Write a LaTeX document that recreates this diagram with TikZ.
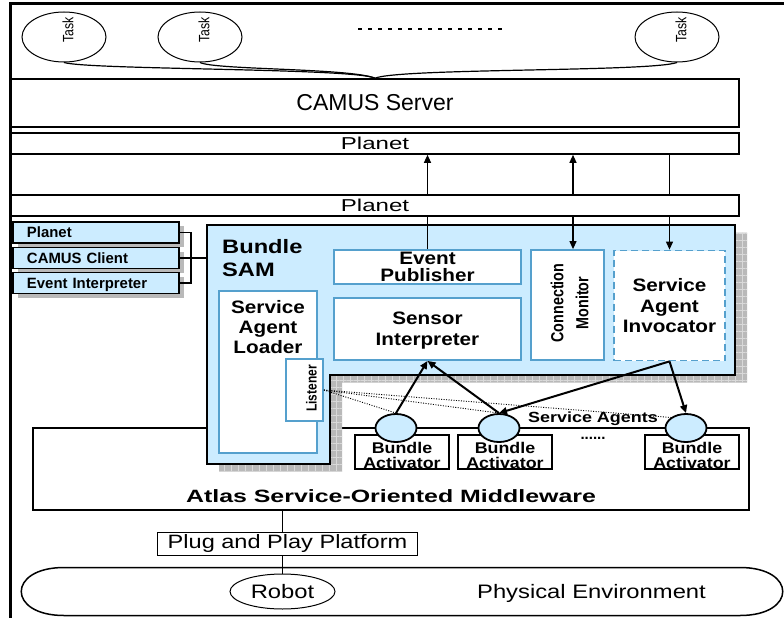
\documentclass[tikz,border=0pt]{standalone}
\usepackage{fontspec}
\setmainfont{Liberation Sans}
\newfontfamily\widesf[FakeStretch=1.4]{Liberation Sans}
\newfontfamily\midsf[FakeStretch=1.22]{Liberation Sans}
\newfontfamily\labsf[FakeStretch=1.15]{Liberation Sans}
\newfontfamily\narrowsf[FakeStretch=0.82]{Liberation Sans}
\usetikzlibrary{arrows.meta,shapes.geometric,shadows,patterns.meta,positioning}
\definecolor{sambg}{RGB}{204,236,255}
\definecolor{samedge}{RGB}{85,160,205}
\tikzset{
    box/.style={draw, line width=1.6pt, fill=white, inner sep=0pt},
    inbox/.style={draw=samedge, line width=1.8pt, fill=white, inner sep=0pt},
    samtext/.style={font=\labsf\bfseries\fontsize{18}{20.3}\selectfont, align=center, inner sep=0pt, text depth=0pt},
    tabbox/.style={draw, line width=1.5pt, fill=sambg, inner sep=0pt, inner xsep=14pt, text width=138pt, minimum height=21pt, align=left, text depth=0pt, font=\bfseries\fontsize{14.9}{16}\selectfont, drop shadow={shadow xshift=5pt, shadow yshift=-4pt, fill=gray!55, opacity=1}},
    task/.style={ellipse, draw, line width=1pt, minimum width=84pt, minimum height=50pt, inner sep=0pt},
    agent/.style={ellipse, draw, line width=1.8pt, fill=sambg, minimum width=41pt, minimum height=28pt, inner sep=0pt},
    bact/.style={draw, line width=1.5pt, fill=white, minimum width=94pt, minimum height=34pt, inner sep=0pt},
}
\begin{document}
\begin{tikzpicture}[x=1pt, y=-1pt, >={Triangle[length=8pt,width=7pt]}]
    \useasboundingbox (0,0) rectangle (784,618);
    \draw[line width=3pt] (10.5,618)--(10.5,4)--(784,4);

\foreach \i/\x in {1/64,2/200,3/677}
{
    \node[task] (t\i) at (\x,37) {};
    \node[rotate=90, inner sep=0pt, font=\narrowsf\fontsize{15}{15}\selectfont] (t\i-l) at (\x+4,30) {Task};
}
    \draw[line width=1.5pt, dash pattern=on 4pt off 6pt] (358,29)--(503,29);

    \node[box, minimum width=728pt, minimum height=48pt, font=\fontsize{23}{27}\selectfont] (srv) at (375,103) {CAMUS Server};
    \draw[line width=1.2pt] (t1.south) .. controls (90,70) and (355,68) .. (srv.north);
    \draw[line width=1.2pt] (t2.south) .. controls (215,70) and (350,68) .. (srv.north);
    \draw[line width=1.2pt] (t3.south) .. controls (650,72) and (400,68) .. (srv.north);

    \node[box, minimum width=728pt, minimum height=21pt, font=\widesf\fontsize{17.2}{18}\selectfont] (pl1) at (375,143.5) {Planet};
    \node[box, minimum width=728pt, minimum height=21pt, font=\widesf\fontsize{17.2}{18}\selectfont] (pl2) at (375,205.5) {Planet};

    \node[box, minimum width=716pt, minimum height=82pt] (mw) at (391,469) {};
    \node[inner sep=0pt, font=\widesf\bfseries\fontsize{17.8}{20}\selectfont, above=7.5pt of mw.south] (mw-l) {Atlas Service-Oriented Middleware};
    \node[box, minimum width=260pt, minimum height=23pt, font=\midsf\fontsize{19.3}{21}\selectfont] (pnp) at (287.5,544) {Plug and Play Platform};
    \draw[line width=1.5pt] (64,567.5)--(740,567.5) .. controls (797,567.5) and (797,615.5) .. (740,615.5)--(64,615.5) .. controls (7,615.5) and (7,567.5) .. (64,567.5);
    \node[ellipse, draw, line width=1pt, minimum width=105pt, minimum height=35pt, inner sep=0pt, text depth=0pt, font=\midsf\fontsize{19.5}{21}\selectfont] (robot) at (282.5,591.5) {Robot};
    \node[inner sep=0pt, text depth=0pt, font=\midsf\fontsize{19.5}{21}\selectfont] (env) at (591.5,591.5) {Physical Environment};
    \draw[line width=1pt] (mw.south -| robot)--(pnp.north -| robot);
    \draw[line width=1pt] (pnp.south -| robot)--(robot.north);

    \fill[gray!55, postaction={pattern={Hatch[angle=0,distance=7pt,line width=.6pt]}, pattern color=gray!30}] (219,232.5)--(747,232.5)--(747,382.5)--(342,382.5)--(342,471.5)--(219,471.5)--cycle;
    \draw[line width=1.5pt, fill=sambg] (207,225)--(735,225)--(735,375)--(330,375)--(330,464)--(207,464)--cycle;
    \coordinate (sam-w) at (207,258);
    \node[inner sep=0pt, align=left, anchor=west, text depth=0pt, font=\midsf\bfseries\fontsize{19.4}{23.4}\selectfont] (sam) at (222,258) {Bundle\\SAM};

    \node[inbox, minimum width=98pt, minimum height=162pt] (sal) at (268,372) {};
    \node[samtext, font=\labsf\bfseries\fontsize{18}{20}\selectfont] (sal-l) at (268,327) {Service\\Agent\\Loader};
    \node[inbox, minimum width=37pt, minimum height=62pt] (lis) at (304.5,390) {};
    \node[rotate=90, inner sep=0pt, font=\narrowsf\bfseries\fontsize{14.6}{15}\selectfont] (lis-l) at (311.5,388.5) {Listener};
    \node[inbox, samtext, font=\labsf\bfseries\fontsize{18}{17.5}\selectfont, minimum width=187pt, minimum height=34pt] (pub) at (427.5,267) {Event\\Publisher};
    \node[inbox, samtext, font=\labsf\bfseries\fontsize{18}{21}\selectfont, minimum width=187pt, minimum height=62pt] (sens) at (427.5,329) {Sensor\\Interpreter};
    \node[inbox, minimum width=73pt, minimum height=110pt] (cmon) at (567.5,305) {};
    \node[rotate=90, inner sep=0pt, align=center, font=\narrowsf\bfseries\fontsize{17.5}{25}\selectfont] (cmon-l) at (569.5,303) {Connection\\Monitor};
    \node[inbox, samtext, dash pattern=on 7pt off 4pt, minimum width=111pt, minimum height=110pt] (sai) at (669.5,305.5) {Service\\Agent\\Invocator};

    \node[tabbox] (tb1) at (96,232.5) {Planet};
    \node[tabbox] (tb2) at (96,258) {CAMUS Client};
    \node[tabbox] (tb3) at (96,283) {Event Interpreter};
    \draw[line width=1.5pt] (tb1.east)--++(11,0) |- (tb3.east);
    \draw[line width=1.5pt] (tb2.east)--(sam-w);

    \coordinate (cm-top) at ([xshift=5.5pt]cmon.north);
    \draw[line width=1.2pt] (pub.north)--(pub.north |- pl2.south);
    \draw[->, line width=1.2pt] (pub.north |- pl2.north)--(pub.north |- pl1.south);
    \draw[->, line width=1.2pt] (cm-top |- pl2.south)--(cm-top);
    \draw[->, line width=1.2pt] (cm-top |- pl2.north)--(cm-top |- pl1.south);
    \draw[->, line width=1.2pt] (sai.north |- pl2.south)--(sai.north);
    \draw[line width=1.2pt] (sai.north |- pl2.north)--(sai.north |- pl1.south);

\foreach \i/\x in {1/402,2/505,3/692}
{
    \node[bact] (ba\i) at (\x,452) {};
    \node[inner sep=0pt, align=center, text depth=0pt, font=\labsf\bfseries\fontsize{15.5}{15}\selectfont] (ba\i-l) at (\x,455.5) {Bundle\\Activator};
    \node[agent] (sa\i) at (\x-6,428) {};
}

    \draw[line width=.9pt, dash pattern=on 1pt off 1.5pt] (lis.east)--(sa1.north);
    \draw[line width=.9pt, dash pattern=on 1pt off 1.5pt] (lis.east)--(sa2.north);
    \draw[line width=.9pt, dash pattern=on 1pt off 1.5pt] (lis.east)--(sa3.north west);
    \node[inner sep=0pt, text depth=0pt, font=\midsf\bfseries\fontsize{14.7}{15}\selectfont] (agents) at (593,417.5) {Service Agents};
    \node[inner sep=0pt, font=\bfseries\fontsize{15}{15}\selectfont] (more) at (593,438.5) {......};

    \draw[->, line width=2pt] (sa1.north)--(sens.south);
    \draw[->, line width=2pt] (sa2.north)--(sens.south);
    \draw[->, line width=2pt] (sai.south)--(sa2.north);
    \draw[->, line width=2pt] (sai.south)--(sa3.north);
\end{tikzpicture}
\end{document}
